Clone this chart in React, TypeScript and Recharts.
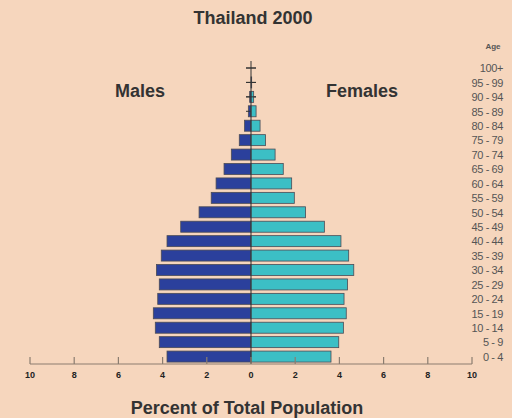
import { BarChart, Bar, XAxis, YAxis, ReferenceLine } from 'recharts';

const AGES = ['0-4', '5-9', '10-14', '15-19', '20-24', '25-29', '30-34', '35-39', '40-44', '45-49', '50-54',
  '55-59', '60-64', '65-69', '70-74', '75-79', '80-84', '85-89', '90-94', '95-99', '100+'];
const MALES = [3.8, 4.15, 4.33, 4.42, 4.22, 4.15, 4.28, 4.06, 3.8, 3.18, 2.35, 1.8, 1.58, 1.22, 0.89, 0.53, 0.29, 0.12, 0.06, 0.01, 0.0];
const FEMALES = [3.62, 3.97, 4.18, 4.31, 4.21, 4.37, 4.65, 4.42, 4.07, 3.32, 2.47, 1.96, 1.84, 1.46, 1.09, 0.66, 0.41, 0.23, 0.12, 0.03, 0.01];
const X_TICKS = [-10, -8, -6, -4, -2, 0, 2, 4, 6, 8, 10];

const BG = '#f6d6bd';
const MALE_COLOR = '#2b409c';
const FEMALE_COLOR = '#3cbfc5';
const FONT = '"Liberation Sans", Arial, sans-serif';

// top row first
const data = AGES.map((age, i) => ({
  age,
  male: -MALES[i],
  female: FEMALES[i],
})).reverse();

const BarShape = (props: any) => {
  const { x, y, width, height, fill } = props;
  const w = Math.abs(width);
  const left = width < 0 ? x + width : x;
  const cy = y + height / 2;
  return (
    <g>
      {w > 0.5 && (
        <rect x={left} y={y} width={w} height={height} fill={fill} stroke="#4b4b55" strokeWidth={0.8} />
      )}
      {w < 4 && <line x1={x - 5} x2={x + 5} y1={cy} y2={cy} stroke="#333" strokeWidth={1} />}
    </g>
  );
};

const XTick = (props: any) => {
  const { x, y, payload } = props;
  return (
    <g>
      <line x1={x} x2={x} y1={y - 7} y2={y} stroke="#8b7d70" strokeWidth={1.2} />
      <text x={x} y={y + 14} textAnchor="middle" fontFamily={FONT} fontWeight="bold" fontSize={9} fill="#222">
        {Math.abs(payload.value)}
      </text>
    </g>
  );
};

const YTick = (props: any) => {
  const { x, y, payload } = props;
  return (
    <text x={x + 31} y={y + 4} textAnchor="end" fontFamily={FONT} fontSize={11} letterSpacing={-0.4} fill="#555">
      {payload.value.replace('-', ' - ')}
    </text>
  );
};

export default function App() {
  return (
    <div style={{ position: 'absolute', left: 0, top: 0, width: 512, height: 418, background: BG, fontFamily: FONT }}>
      <BarChart
        width={512}
        height={418}
        data={data}
        layout="vertical"
        stackOffset="sign"
        barCategoryGap={1.5}
        margin={{ top: 61, right: 0, bottom: 34, left: 30 }}
      >
        <XAxis
          type="number"
          domain={[-10, 10]}
          ticks={X_TICKS}
          interval={0}
          height={20}
          tickSize={0}
          tickMargin={0}
          tickLine={false}
          axisLine={{ stroke: '#8b7d70', strokeWidth: 1.2 }}
          tick={<XTick />}
        />
        <YAxis
          type="category"
          dataKey="age"
          orientation="right"
          width={40}
          interval={0}
          tickSize={0}
          tickMargin={0}
          axisLine={false}
          tickLine={false}
          tick={<YTick />}
        />
        <Bar dataKey="male" stackId="p" fill={MALE_COLOR} shape={<BarShape />} isAnimationActive={false} />
        <Bar dataKey="female" stackId="p" fill={FEMALE_COLOR} shape={<BarShape />} isAnimationActive={false} />
        <ReferenceLine x={0} stroke="#333" strokeWidth={1} />
        <text x={253} y={24} textAnchor="middle" fontFamily={FONT} fontWeight="bold" fontSize={18} fill="#333">
          Thailand 2000
        </text>
        <text x={140} y={97} textAnchor="middle" fontFamily={FONT} fontWeight="bold" fontSize={18} fill="#333">
          Males
        </text>
        <text x={362} y={97} textAnchor="middle" fontFamily={FONT} fontWeight="bold" fontSize={18} fill="#333">
          Females
        </text>
        <text x={493} y={49} textAnchor="middle" fontFamily={FONT} fontWeight="bold" fontSize={8} fill="#555">
          Age
        </text>
        <text x={247} y={414} textAnchor="middle" fontFamily={FONT} fontWeight="bold" fontSize={18} fill="#333">
          Percent of Total Population
        </text>
      </BarChart>
    </div>
  );
}
